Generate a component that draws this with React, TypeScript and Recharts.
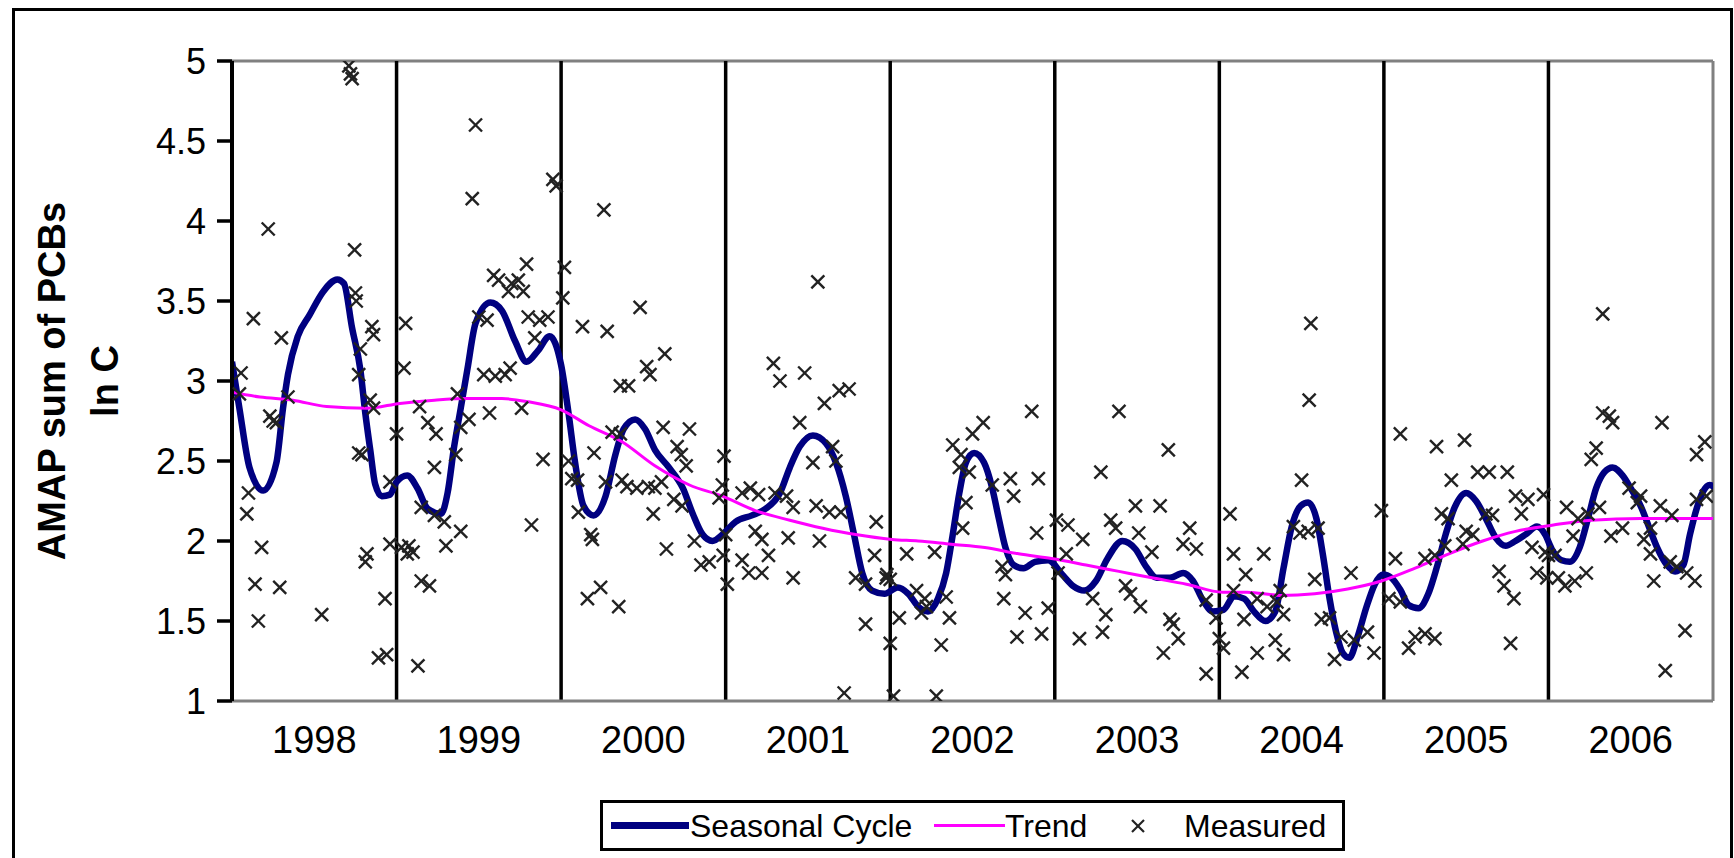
import React from 'react';
import { ComposedChart, Line, Scatter, XAxis, YAxis, ReferenceLine } from 'recharts';

// year label under each interval, and the boundaries drawn as black lines
const yearLabels = ['1998', '1999', '2000', '2001', '2002', '2003', '2004', '2005', '2006'];
const yearBounds = [1999, 2000, 2001, 2002, 2003, 2004, 2005, 2006];
const yTicks = [1, 1.5, 2, 2.5, 3, 3.5, 4, 4.5, 5];

// [decimal year, ln C]
const seasonalCycle: [number, number][] = [
  [1998.0, 3.12], [1998.045, 2.83], [1998.106, 2.46], [1998.19, 2.315], [1998.27, 2.49],
  [1998.31, 2.83], [1998.34, 3.04], [1998.4, 3.28], [1998.47, 3.41], [1998.555, 3.56],
  [1998.64, 3.635], [1998.68, 3.61], [1998.73, 3.33], [1998.78, 3.07], [1998.81, 2.8],
  [1998.84, 2.57], [1998.87, 2.355], [1998.91, 2.28], [1998.96, 2.29], [1999.0, 2.37],
  [1999.065, 2.41], [1999.127, 2.33], [1999.19, 2.2], [1999.27, 2.17], [1999.31, 2.3],
  [1999.35, 2.59], [1999.39, 2.83], [1999.43, 3.07], [1999.48, 3.36], [1999.57, 3.49],
  [1999.64, 3.44], [1999.72, 3.25], [1999.79, 3.12], [1999.86, 3.19], [1999.93, 3.28],
  [2000.0, 3.1], [2000.045, 2.8], [2000.085, 2.49], [2000.136, 2.22], [2000.197, 2.16],
  [2000.27, 2.28], [2000.33, 2.54], [2000.38, 2.7], [2000.45, 2.76], [2000.51, 2.7],
  [2000.57, 2.57], [2000.655, 2.46], [2000.74, 2.33], [2000.8, 2.17], [2000.86, 2.04],
  [2000.92, 2.0], [2000.98, 2.04], [2001.06, 2.12], [2001.16, 2.16], [2001.24, 2.2],
  [2001.33, 2.3], [2001.39, 2.46], [2001.45, 2.59], [2001.53, 2.66], [2001.61, 2.61],
  [2001.67, 2.49], [2001.73, 2.28], [2001.78, 2.04], [2001.83, 1.8], [2001.89, 1.69],
  [2001.965, 1.67], [2002.045, 1.71], [2002.11, 1.67], [2002.17, 1.59], [2002.23, 1.56],
  [2002.29, 1.64], [2002.34, 1.8], [2002.38, 2.04], [2002.42, 2.3], [2002.46, 2.49],
  [2002.51, 2.55], [2002.57, 2.49], [2002.62, 2.33], [2002.66, 2.14], [2002.7, 1.96],
  [2002.75, 1.85], [2002.81, 1.83], [2002.88, 1.87], [2002.96, 1.88], [2003.045, 1.79],
  [2003.11, 1.72], [2003.18, 1.69], [2003.25, 1.75], [2003.32, 1.89], [2003.41, 2.0],
  [2003.49, 1.95], [2003.555, 1.84], [2003.62, 1.77], [2003.7, 1.77], [2003.78, 1.8],
  [2003.84, 1.75], [2003.9, 1.63], [2003.96, 1.56], [2004.025, 1.57], [2004.09, 1.655],
  [2004.15, 1.64], [2004.21, 1.56], [2004.28, 1.5], [2004.34, 1.56], [2004.39, 1.83],
  [2004.44, 2.09], [2004.495, 2.22], [2004.54, 2.24], [2004.59, 2.14], [2004.63, 1.91],
  [2004.67, 1.64], [2004.71, 1.43], [2004.75, 1.3], [2004.79, 1.27], [2004.84, 1.4],
  [2004.895, 1.59], [2004.945, 1.73], [2004.995, 1.79], [2005.045, 1.77], [2005.1, 1.695],
  [2005.15, 1.6], [2005.21, 1.58], [2005.27, 1.67], [2005.32, 1.83], [2005.375, 2.04],
  [2005.43, 2.21], [2005.5, 2.3], [2005.56, 2.25], [2005.62, 2.14], [2005.68, 2.02],
  [2005.74, 1.97], [2005.8, 2.0], [2005.86, 2.04], [2005.93, 2.09], [2005.98, 2.04],
  [2006.02, 1.95], [2006.08, 1.88], [2006.13, 1.87], [2006.19, 1.96], [2006.24, 2.14],
  [2006.29, 2.33], [2006.34, 2.43], [2006.39, 2.46], [2006.45, 2.41], [2006.5, 2.33],
  [2006.56, 2.22], [2006.61, 2.09], [2006.66, 1.96], [2006.72, 1.85], [2006.77, 1.81],
  [2006.82, 1.85], [2006.86, 2.04], [2006.9, 2.2], [2006.94, 2.31], [2006.98, 2.35],
  [2007.03, 2.3], [2007.06, 2.22],
];

const trend: [number, number][] = [
  [1997.97, 2.935], [1998.17, 2.9], [1998.37, 2.88], [1998.575, 2.84], [1998.82, 2.83],
  [1999.02, 2.86], [1999.23, 2.88], [1999.43, 2.89], [1999.64, 2.89], [1999.8, 2.87],
  [2000.0, 2.82], [2000.17, 2.72], [2000.37, 2.62], [2000.57, 2.47], [2000.78, 2.35],
  [2000.98, 2.28], [2001.18, 2.19], [2001.39, 2.13], [2001.59, 2.08], [2001.79, 2.04],
  [2002.01, 2.01], [2002.17, 2.0], [2002.37, 1.98], [2002.575, 1.96], [2002.78, 1.92],
  [2002.98, 1.89], [2003.19, 1.85], [2003.39, 1.81], [2003.59, 1.77], [2003.8, 1.73],
  [2004.02, 1.68], [2004.17, 1.68], [2004.37, 1.66], [2004.58, 1.67], [2004.78, 1.7],
  [2004.985, 1.75], [2005.19, 1.83], [2005.395, 1.92], [2005.6, 2.0], [2005.8, 2.06],
  [2006.03, 2.1], [2006.26, 2.13], [2006.56, 2.14], [2006.86, 2.14], [2007.05, 2.14],
];

const measured1998: [number, number][] = [
  [1998.71, 4.97], [1998.72, 4.92], [1998.73, 4.89], [1998.22, 3.95], [1998.745, 3.82],
  [1998.13, 3.39], [1998.3, 3.27], [1998.75, 3.55], [1998.755, 3.5], [1998.85, 3.34],
  [1998.86, 3.29], [1998.055, 3.05], [1998.78, 3.2], [1998.77, 3.04], [1998.045, 2.92],
  [1998.34, 2.9], [1998.23, 2.78], [1998.25, 2.75], [1998.27, 2.74], [1998.84, 2.88],
  [1998.86, 2.83], [1998.77, 2.55], [1998.79, 2.54], [1998.1, 2.3], [1998.09, 2.17],
  [1998.18, 1.96], [1998.14, 1.73], [1998.29, 1.71], [1998.16, 1.5], [1998.545, 1.54],
  [1998.82, 1.92], [1998.81, 1.87], [1998.93, 1.64], [1998.89, 1.27], [1998.94, 1.29],
  [1998.96, 2.37], [1998.96, 1.98],
];

const measured1999: [number, number][] = [
  [1999.0, 2.67], [1999.055, 3.36], [1999.045, 3.08], [1999.13, 1.22], [1999.03, 1.96],
  [1999.075, 1.97], [1999.1, 1.93], [1999.065, 1.92], [1999.15, 1.75], [1999.2, 1.72],
  [1999.14, 2.84], [1999.19, 2.74], [1999.24, 2.67], [1999.23, 2.46], [1999.15, 2.21],
  [1999.23, 2.16], [1999.29, 2.12], [1999.39, 2.06], [1999.3, 1.97], [1999.36, 2.54],
  [1999.39, 2.71], [1999.44, 2.76], [1999.37, 2.92], [1999.48, 4.6], [1999.46, 4.14],
  [1999.95, 4.26], [1999.97, 4.22], [1999.59, 3.66], [1999.62, 3.63], [1999.7, 3.61],
  [1999.74, 3.63], [1999.79, 3.73], [1999.77, 3.56], [1999.68, 3.56], [1999.5, 3.4],
  [1999.55, 3.38], [1999.8, 3.4], [1999.87, 3.38], [1999.92, 3.4], [1999.84, 3.27],
  [1999.53, 3.04], [1999.6, 3.03], [1999.66, 3.04], [1999.69, 3.08], [1999.565, 2.8],
  [1999.76, 2.83], [1999.89, 2.51], [1999.82, 2.1],
];

const measured2000: [number, number][] = [
  [2000.02, 3.71], [2000.01, 3.52], [2000.26, 4.07], [2000.48, 3.46], [2000.13, 3.34],
  [2000.28, 3.31], [2000.63, 3.17], [2000.52, 3.09], [2000.54, 3.04], [2000.36, 2.97],
  [2000.41, 2.97], [2000.2, 2.55], [2000.045, 2.5], [2000.065, 2.39], [2000.1, 2.38],
  [2000.105, 2.18], [2000.18, 2.04], [2000.19, 2.01], [2000.27, 2.37], [2000.37, 2.38],
  [2000.4, 2.34], [2000.46, 2.33], [2000.53, 2.34], [2000.57, 2.33], [2000.61, 2.37],
  [2000.31, 2.68], [2000.36, 2.67], [2000.62, 2.71], [2000.78, 2.7], [2000.705, 2.59],
  [2000.73, 2.54], [2000.76, 2.47], [2000.56, 2.17], [2000.685, 2.26], [2000.735, 2.22],
  [2000.64, 1.95], [2000.81, 2.0], [2000.85, 1.85], [2000.9, 1.87], [2000.99, 2.53],
  [2000.96, 2.27], [2000.98, 2.35], [2000.16, 1.64], [2000.24, 1.71], [2000.35, 1.59],
];

const measured2001: [number, number][] = [
  [2001.0, 2.04], [2000.985, 1.91], [2001.01, 1.73], [2001.1, 2.3], [2001.15, 2.33],
  [2001.2, 2.29], [2001.18, 2.06], [2001.22, 2.01], [2001.26, 1.91], [2001.1, 1.88],
  [2001.14, 1.8], [2001.22, 1.8], [2001.3, 2.3], [2001.37, 2.28], [2001.41, 2.21],
  [2001.38, 2.02], [2001.41, 1.77], [2001.29, 3.11], [2001.33, 3.0], [2001.48, 3.05],
  [2001.56, 3.62], [2001.45, 2.74], [2001.6, 2.86], [2001.69, 2.94], [2001.75, 2.95],
  [2001.53, 2.49], [2001.65, 2.59], [2001.67, 2.5], [2001.55, 2.22], [2001.63, 2.18],
  [2001.7, 2.18], [2001.57, 2.0], [2001.915, 2.12], [2001.905, 1.91], [2001.79, 1.77],
  [2001.85, 1.73], [2001.975, 1.77], [2001.85, 1.48], [2001.72, 1.05],
];

const measured2002: [number, number][] = [
  [2002.0, 1.36], [2002.02, 1.03], [2002.28, 1.03], [2002.31, 1.35], [2001.98, 1.79],
  [2002.0, 1.76], [2002.1, 1.92], [2002.27, 1.93], [2002.055, 1.52], [2002.19, 1.55],
  [2002.36, 1.52], [2002.16, 1.69], [2002.21, 1.64], [2002.22, 1.59], [2002.34, 1.65],
  [2002.38, 2.6], [2002.43, 2.54], [2002.5, 2.67], [2002.565, 2.74], [2002.42, 2.46],
  [2002.48, 2.43], [2002.46, 2.24], [2002.44, 2.08], [2002.62, 2.35], [2002.73, 2.39],
  [2002.75, 2.28], [2002.9, 2.39], [2002.86, 2.81], [2002.89, 2.05], [2002.68, 1.84],
  [2002.7, 1.79], [2002.69, 1.64], [2002.82, 1.55], [2002.77, 1.4], [2002.92, 1.42],
  [2002.96, 1.58],
];

const measured2003: [number, number][] = [
  [2003.01, 2.13], [2003.08, 2.1], [2003.17, 2.01], [2003.07, 1.92], [2003.02, 1.8],
  [2003.39, 2.81], [2003.28, 2.43], [2003.69, 2.57], [2003.49, 2.22], [2003.64, 2.22],
  [2003.34, 2.13], [2003.37, 2.08], [2003.51, 2.05], [2003.59, 1.93], [2003.82, 2.08],
  [2003.78, 1.98], [2003.86, 1.95], [2003.23, 1.64], [2003.31, 1.54], [2003.29, 1.43],
  [2003.15, 1.39], [2003.43, 1.72], [2003.46, 1.67], [2003.52, 1.59], [2003.7, 1.51],
  [2003.72, 1.48], [2003.75, 1.39], [2003.66, 1.3], [2003.92, 1.17], [2003.92, 1.63],
  [2003.98, 1.52],
];

const measured2004: [number, number][] = [
  [2004.556, 3.36], [2004.546, 2.88], [2004.5, 2.38], [2004.45, 2.09], [2004.49, 2.05],
  [2004.54, 2.06], [2004.6, 2.08], [2004.065, 2.17], [2004.086, 1.92], [2004.27, 1.92],
  [2004.16, 1.79], [2004.37, 1.69], [2004.086, 1.69], [2004.15, 1.51], [2004.23, 1.64],
  [2004.29, 1.59], [2004.35, 1.62], [2004.39, 1.54], [2004.0, 1.39], [2004.025, 1.33],
  [2004.23, 1.3], [2004.34, 1.38], [2004.39, 1.29], [2004.137, 1.18], [2004.58, 1.76],
  [2004.8, 1.8], [2004.62, 1.51], [2004.67, 1.52], [2004.74, 1.4], [2004.82, 1.38],
  [2004.9, 1.43], [2004.94, 1.3], [2004.7, 1.26], [2004.985, 2.19],
];

const measured2005: [number, number][] = [
  [2005.07, 1.89], [2005.03, 1.64], [2005.1, 1.62], [2005.1, 2.67], [2005.25, 1.89],
  [2005.19, 1.4], [2005.15, 1.33], [2005.25, 1.42], [2005.31, 1.39], [2005.32, 2.59],
  [2005.49, 2.63], [2005.41, 2.38], [2005.57, 2.43], [2005.64, 2.43], [2005.75, 2.43],
  [2005.35, 2.17], [2005.39, 2.14], [2005.62, 2.17], [2005.66, 2.16], [2005.5, 2.06],
  [2005.54, 2.04], [2005.48, 1.98], [2005.37, 1.97], [2005.31, 1.91], [2005.7, 1.81],
  [2005.73, 1.72], [2005.79, 1.64], [2005.77, 1.36], [2005.8, 2.28], [2005.875, 2.26],
  [2005.97, 2.29], [2005.835, 2.17], [2005.9, 1.96], [2005.93, 1.8], [2005.99, 1.77],
];

const measured2006: [number, number][] = [
  [2006.0, 1.91], [2006.33, 3.42], [2006.33, 2.8], [2006.37, 2.78], [2006.39, 2.74],
  [2006.69, 2.74], [2006.29, 2.58], [2006.26, 2.51], [2006.95, 2.62], [2006.9, 2.54],
  [2006.11, 2.21], [2006.18, 2.14], [2006.24, 2.17], [2006.31, 2.21], [2006.49, 2.33],
  [2006.54, 2.24], [2006.56, 2.28], [2006.68, 2.22], [2006.75, 2.16], [2006.45, 2.08],
  [2006.9, 2.26], [2006.96, 2.28], [2006.15, 2.03], [2006.38, 2.03], [2006.62, 2.08],
  [2005.98, 1.93], [2006.04, 1.91], [2006.06, 1.77], [2006.1, 1.72], [2006.16, 1.75],
  [2006.23, 1.8], [2006.58, 2.01], [2006.62, 1.92], [2006.64, 1.75], [2006.74, 1.87],
  [2006.78, 1.84], [2006.84, 1.8], [2006.89, 1.75], [2006.83, 1.44], [2006.71, 1.19],
];

const toPoints = (rows: [number, number][]) => rows.map(([t, v]) => ({ t, v }));

const seasonalData = toPoints(seasonalCycle);
const trendData = toPoints(trend);
const measuredData = toPoints([
  ...measured1998, ...measured1999, ...measured2000, ...measured2001, ...measured2002,
  ...measured2003, ...measured2004, ...measured2005, ...measured2006,
]);

const FONT = '"Liberation Sans", Arial, sans-serif';
const NAVY = '#000080';
const MAGENTA = '#ff00ff';
const GREY = '#808080';

const CrossMark = (props: any) => {
  const { cx, cy } = props;
  if (cx == null || cy == null) return null;
  const s = 6.5;
  return (
    <g stroke="#222" strokeWidth={2.4}>
      <line x1={cx - s} y1={cy - s} x2={cx + s} y2={cy + s} />
      <line x1={cx - s} y1={cy + s} x2={cx + s} y2={cy - s} />
    </g>
  );
};

const legendText: React.CSSProperties = {
  position: 'absolute', top: 4, fontSize: 32, fontFamily: FONT, color: '#000',
  lineHeight: '38px', whiteSpace: 'nowrap',
};

export default function App() {
  return (
    <div style={{ position: 'fixed', left: 0, top: 0, width: 1734, height: 858, overflow: 'hidden', background: '#fff' }}>
      {/* outer frame, bottom edge runs off the picture */}
      <div style={{
        position: 'absolute', left: 12, top: 8, width: 1721, height: 900,
        border: '3px solid #000', boxSizing: 'border-box',
      }} />

      <ComposedChart
        width={1734}
        height={858}
        margin={{ top: 61, right: 21, bottom: 0, left: 0 }}
        style={{ position: 'absolute', left: 0, top: 0 }}
      >
        <XAxis
          type="number"
          dataKey="t"
          domain={[1998, 2007]}
          allowDataOverflow
          ticks={yearLabels.map((_, i) => 1998.5 + i)}
          tickFormatter={(v: number) => yearLabels[Math.round(v - 1998.5)]}
          interval={0}
          height={157}
          axisLine={{ stroke: GREY, strokeWidth: 3 }}
          tickLine={false}
          tickSize={0}
          tickMargin={25}
          tick={{ fontSize: 38, fill: '#000', fontFamily: FONT }}
        />
        <YAxis
          type="number"
          dataKey="v"
          domain={[1, 5]}
          allowDataOverflow
          ticks={yTicks}
          interval={0}
          width={232}
          axisLine={{ stroke: '#000', strokeWidth: 4 }}
          tickLine={{ stroke: '#000', strokeWidth: 3.5 }}
          tickSize={15}
          tickMargin={11}
          tick={{ fontSize: 36, fill: '#000', fontFamily: FONT }}
        />
        <ReferenceLine y={5} stroke={GREY} strokeWidth={3} />
        <ReferenceLine x={2007} stroke={GREY} strokeWidth={3} />
        {yearBounds.map((yr) => (
          <ReferenceLine key={yr} x={yr} stroke="#000" strokeWidth={3.5} />
        ))}
        <Line
          data={seasonalData}
          dataKey="v"
          name="Seasonal Cycle"
          type="monotone"
          stroke={NAVY}
          strokeWidth={6.5}
          dot={false}
          activeDot={false}
          isAnimationActive={false}
        />
        <Line
          data={trendData}
          dataKey="v"
          name="Trend"
          type="monotone"
          stroke={MAGENTA}
          strokeWidth={3}
          dot={false}
          activeDot={false}
          isAnimationActive={false}
        />
        <Scatter
          data={measuredData}
          dataKey="v"
          name="Measured"
          shape={<CrossMark />}
          isAnimationActive={false}
        />
      </ComposedChart>

      {/* y axis title, two lines */}
      <div style={{
        position: 'absolute', left: 52, top: 381, transform: 'translate(-50%, -50%) rotate(-90deg)',
        fontSize: 38, fontWeight: 'bold', fontFamily: FONT, whiteSpace: 'nowrap', lineHeight: '40px',
      }}>AMAP sum of PCBs</div>
      <div style={{
        position: 'absolute', left: 105, top: 381, transform: 'translate(-50%, -50%) rotate(-90deg)',
        fontSize: 38, fontWeight: 'bold', fontFamily: FONT, whiteSpace: 'nowrap', lineHeight: '40px',
      }}>ln C</div>

      {/* legend */}
      <div style={{
        position: 'absolute', left: 600, top: 800, width: 745, height: 51,
        border: '3px solid #000', boxSizing: 'border-box', background: '#fff',
      }}>
        <div style={{ position: 'absolute', left: 8, top: 19, width: 78, height: 7, background: NAVY }} />
        <div style={{ ...legendText, left: 87 }}>Seasonal Cycle</div>
        <div style={{ position: 'absolute', left: 331, top: 21, width: 71, height: 3, background: MAGENTA }} />
        <div style={{ ...legendText, left: 402 }}>Trend</div>
        <svg width={16} height={16} style={{ position: 'absolute', left: 527, top: 15 }}>
          <line x1={2} y1={2} x2={14} y2={14} stroke="#222" strokeWidth={2.2} />
          <line x1={2} y1={14} x2={14} y2={2} stroke="#222" strokeWidth={2.2} />
        </svg>
        <div style={{ ...legendText, left: 581 }}>Measured</div>
      </div>
    </div>
  );
}
